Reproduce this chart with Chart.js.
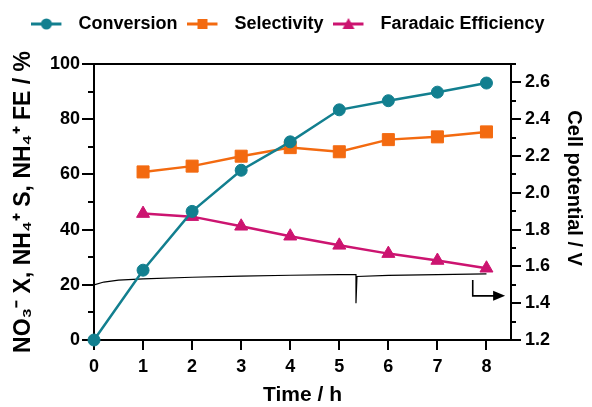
<!DOCTYPE html>
<html>
<head>
<meta charset="utf-8">
<script src="https://cdn.jsdelivr.net/npm/chart.js@4.4.0/dist/chart.umd.min.js"></script>
<style>
  html, body { margin: 0; padding: 0; background: #fff; }
  #wrap { width: 592px; height: 407px; }
</style>
</head>
<body>
<div id="wrap"><canvas id="chart" width="592" height="407"></canvas></div>
<script>
// values
var times = [0, 1, 2, 3, 4, 5, 6, 7, 8];
var conversion = [0, 25.3, 46.6, 61.5, 71.8, 83.4, 86.7, 89.8, 93.1];
var selectivity = [null, 60.9, 63.0, 66.6, 69.7, 68.2, 72.6, 73.6, 75.4];
var faradaic = [null, 45.8, 44.7, 41.2, 37.6, 34.3, 31.3, 28.8, 26.0];

// cell potential trace (right axis)
var cellTime = [0, 0.2, 0.5, 1, 2, 3, 4, 5, 5.34, 5.34, 5.36, 6, 7, 8];
var cellVolt = [1.50, 1.515, 1.525, 1.532, 1.541, 1.547, 1.552, 1.555, 1.556, 1.40, 1.545, 1.551, 1.555, 1.559];

// arrow pointing to the right axis (time, volt)
var arrowPath = [[7.72, 1.526], [7.72, 1.44], [8.38, 1.44]];

var seriesNames = ['Conversion', 'Selectivity', 'Faradaic Efficiency'];
var seriesColors = ['#127f8f', '#f36a10', '#cc1470'];
var seriesStyles = ['circle', 'rect', 'triangle'];

var fontFamily = "'Liberation Sans', Arial, Helvetica, sans-serif";
var tickFont = { family: fontFamily, size: 18, weight: 'bold' };
var titleFont = { family: fontFamily, size: 20, weight: 'bold' };

function pts(xs, ys) {
    var out = [];
    for (var i = 0; i < xs.length; i++) {
        if (ys[i] !== null) out.push({ x: xs[i], y: ys[i] });
    }
    return out;
}

// small line+marker icon for the legend
function legendIcon(color, style) {
    var c = document.createElement('canvas');
    c.width = 38;
    c.height = 16;
    var g = c.getContext('2d');
    g.strokeStyle = color;
    g.fillStyle = color;
    g.lineWidth = 3;
    g.beginPath();
    g.moveTo(0, 8);
    g.lineTo(30, 8);
    g.stroke();
    g.beginPath();
    if (style === 'circle') {
        g.arc(15, 8, 5.5, 0, Math.PI * 2);
    } else if (style === 'rect') {
        g.rect(10, 3, 10, 10);
    } else {
        g.moveTo(15, 2);
        g.lineTo(21, 13);
        g.lineTo(9, 13);
        g.closePath();
    }
    g.fill();
    return c;
}

var icons = seriesNames.map(function (n, i) { return legendIcon(seriesColors[i], seriesStyles[i]); });

var arrowPlugin = {
    id: 'arrow',
    afterDatasetsDraw: function (chart) {
        var ctx = chart.ctx;
        var xs = chart.scales.x, ys = chart.scales.y2;
        var p = arrowPath.map(function (a) { return [xs.getPixelForValue(a[0]), ys.getPixelForValue(a[1])]; });
        ctx.save();
        ctx.strokeStyle = '#000';
        ctx.fillStyle = '#000';
        ctx.lineWidth = 1.6;
        ctx.beginPath();
        ctx.moveTo(p[0][0], p[0][1]);
        ctx.lineTo(p[1][0], p[1][1]);
        ctx.lineTo(p[2][0] - 10, p[2][1]);
        ctx.stroke();
        ctx.beginPath();
        ctx.moveTo(p[2][0], p[2][1]);
        ctx.lineTo(p[2][0] - 12, p[2][1] - 5);
        ctx.lineTo(p[2][0] - 12, p[2][1] + 5);
        ctx.closePath();
        ctx.fill();
        ctx.restore();
    }
};

var datasets = seriesNames.map(function (name, i) {
    var vals = [conversion, selectivity, faradaic][i];
    return {
        label: name,
        data: pts(times, vals),
        xAxisID: 'x',
        yAxisID: 'y',
        borderColor: seriesColors[i],
        backgroundColor: seriesColors[i],
        borderWidth: 2.5,
        pointStyle: seriesStyles[i],
        pointRadius: seriesStyles[i] === 'circle' ? 6 : (seriesStyles[i] === 'rect' ? 8.5 : 7.5),
        pointBorderWidth: 1,
        clip: false
    };
});

datasets.push({
    label: 'Cell potential',
    data: pts(cellTime, cellVolt),
    xAxisID: 'x',
    yAxisID: 'y2',
    borderColor: '#000',
    backgroundColor: '#000',
    borderWidth: 1.2,
    pointRadius: 0
});

var axisLine = { color: '#000', width: 2 };

var config = {
    type: 'line',
    data: { datasets: datasets },
    options: {
        responsive: false,
        animation: false,
        layout: { padding: { top: 5, right: 16, left: 0, bottom: 0 } },
        plugins: {
            tooltip: { enabled: false },
            legend: {
                position: 'top',
                align: 'center',
                labels: {
                    usePointStyle: true,
                    pointStyleWidth: 38,
                    boxHeight: 18,
                    padding: 10,
                    color: '#000',
                    font: tickFont,
                    generateLabels: function (chart) {
                        return seriesNames.map(function (name, i) {
                            return {
                                text: name,
                                pointStyle: icons[i],
                                fillStyle: seriesColors[i],
                                strokeStyle: seriesColors[i],
                                lineWidth: 0,
                                hidden: false,
                                datasetIndex: i,
                                fontColor: '#000'
                            };
                        });
                    }
                }
            }
        },
        scales: {
            x: {
                type: 'linear', position: 'bottom', min: 0, max: 8.5,
                afterFit: function (s) { s.height = 67; },
                ticks: { stepSize: 1, includeBounds: false, autoSkip: false, maxRotation: 0, padding: 6, color: '#000', font: tickFont },
                grid: { drawOnChartArea: false, tickLength: 10, lineWidth: 2, color: '#000' },
                border: axisLine,
                title: { display: true, text: 'Time / h', color: '#000', font: { family: fontFamily, size: 21, weight: 'bold' }, padding: { top: 0, bottom: -1 } }
            },
            xTop: {
                type: 'linear', position: 'top', min: 0, max: 8.5,
                afterFit: function (s) { s.height = 21; },
                ticks: { display: false },
                grid: { display: false },
                border: axisLine
            },
            y: {
                position: 'left', weight: 1, min: 0, max: 100,
                afterFit: function (s) { s.width = 94; },
                ticks: { stepSize: 20, autoSkip: false, padding: 2, color: '#000', font: tickFont },
                grid: { drawOnChartArea: false, tickLength: 12, lineWidth: 2, color: '#000' },
                border: axisLine,
                title: { display: true, text: 'NO\u2083\u207B X, NH\u2084\u207A S, NH\u2084\u207A FE / %', color: '#000', font: { family: fontFamily, size: 23, weight: 'bold' }, padding: { top: 10, bottom: 0 } }
            },
            yMinor: {
                position: 'left', weight: 0, min: 0, max: 100,
                afterFit: function (s) { s.width = 0; },
                ticks: { display: false, stepSize: 10, autoSkip: false },
                grid: { drawOnChartArea: false, tickLength: 6, lineWidth: 2, color: '#000' },
                border: { display: false }
            },
            y2: {
                position: 'right', weight: 1, min: 1.2, max: 2.7,
                afterFit: function (s) { s.width = 65; },
                ticks: {
                    stepSize: 0.2, includeBounds: false, autoSkip: false, padding: 4, color: '#000', font: tickFont,
                    callback: function (v) { return v.toFixed(1); }
                },
                grid: { drawOnChartArea: false, tickLength: 10, lineWidth: 2, color: '#000' },
                border: axisLine,
                title: { display: true, text: 'Cell potential / V     ', color: '#000', font: titleFont, padding: { top: -10, bottom: 0 } }
            },
            y2Minor: {
                position: 'right', weight: 0, min: 1.2, max: 2.7,
                afterFit: function (s) { s.width = 0; },
                ticks: { display: false, stepSize: 0.1, autoSkip: false },
                grid: { drawOnChartArea: false, tickLength: 5, lineWidth: 2, color: '#000' },
                border: { display: false }
            }
        }
    },
    plugins: [arrowPlugin]
};

new Chart(document.getElementById('chart'), config);
</script>
</body>
</html>
